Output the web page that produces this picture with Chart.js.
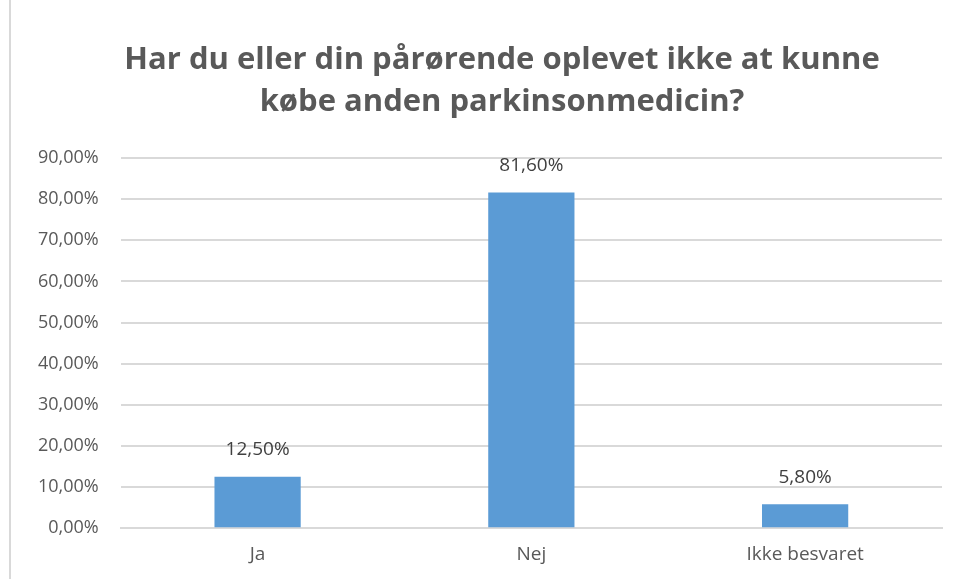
<!DOCTYPE html>
<html lang="da">
<head>
    <meta charset="UTF-8">
    <title>Parkinsonmedicin</title>
    <script src="https://cdn.jsdelivr.net/npm/chart.js"></script>
    <style>
        html, body { margin: 0; padding: 0; background: #fff; overflow: hidden; }
        .chart-box {
            position: absolute;
            left: 9px;
            top: -2px;
            width: 960px;
            height: 590px;
            border: 2px solid #d9d9d9;
            box-sizing: border-box;
        }
        .chart-inner {
            position: absolute;
            left: -9px;
            top: 2px;
            width: 955px;
            height: 579px;
        }
    </style>
</head>
<body>
    <div class="chart-box">
        <div class="chart-inner">
            <canvas id="bar_chart" width="955" height="579"></canvas>
        </div>
    </div>

    <script>
        const categories = ["Ja", "Nej", "Ikke besvaret"];
        const values = [12.5, 81.6, 5.8];
        const titleLines = ["Har du eller din pårørende oplevet ikke at kunne", "købe anden parkinsonmedicin?"];

        const fmt = v => v.toFixed(2).replace(".", ",") + "%";
        const FONT = "'Open Sans', sans-serif";

        // title drawn by hand, the excel chart centres it a bit right of the canvas
        const chartTitle = {
            id: "chartTitle",
            afterDraw(chart) {
                const ctx = chart.ctx;
                ctx.save();
                ctx.font = "bold 31px " + FONT;
                ctx.fillStyle = "#595959";
                ctx.textAlign = "center";
                ctx.textBaseline = "middle";
                ctx.fillText(titleLines[0], 500, 58);
                ctx.fillText(titleLines[1], 500, 100);
                ctx.restore();
            }
        };

        // value labels above each bar
        const barLabels = {
            id: "barLabels",
            afterDatasetsDraw(chart) {
                const ctx = chart.ctx;
                const meta = chart.getDatasetMeta(0);
                ctx.save();
                ctx.font = "19px " + FONT;
                ctx.fillStyle = "#404040";
                ctx.textAlign = "center";
                ctx.textBaseline = "middle";
                meta.data.forEach((bar, i) => {
                    ctx.fillText(fmt(values[i]), bar.x, bar.y - 27);
                });
                ctx.restore();
            }
        };

        new Chart("bar_chart", {
            type: "bar",
            data: {
                labels: categories,
                datasets: [{
                    data: values,
                    backgroundColor: "#5b9bd5",
                    categoryPercentage: 1,
                    barPercentage: 0.315
                }]
            },
            options: {
                responsive: false,
                animation: false,
                layout: { padding: { left: 14, right: 15, top: 156, bottom: 0 } },
                plugins: {
                    legend: { display: false },
                    tooltip: { enabled: false },
                    title: { display: false }
                },
                scales: {
                    y: {
                        min: 0,
                        max: 90,
                        ticks: {
                            stepSize: 10,
                            callback: v => fmt(v),
                            color: "#595959",
                            font: { family: FONT, size: 18 },
                            padding: 22
                        },
                        grid: { color: "#d9d9d9", lineWidth: 2, drawTicks: false },
                        border: { display: false }
                    },
                    x: {
                        ticks: {
                            color: "#595959",
                            font: { family: FONT, size: 19 },
                            padding: 15
                        },
                        grid: { display: false, drawTicks: false },
                        border: { color: "#d9d9d9", width: 2 }
                    }
                }
            },
            plugins: [barLabels, chartTitle]
        });
    </script>
</body>
</html>
